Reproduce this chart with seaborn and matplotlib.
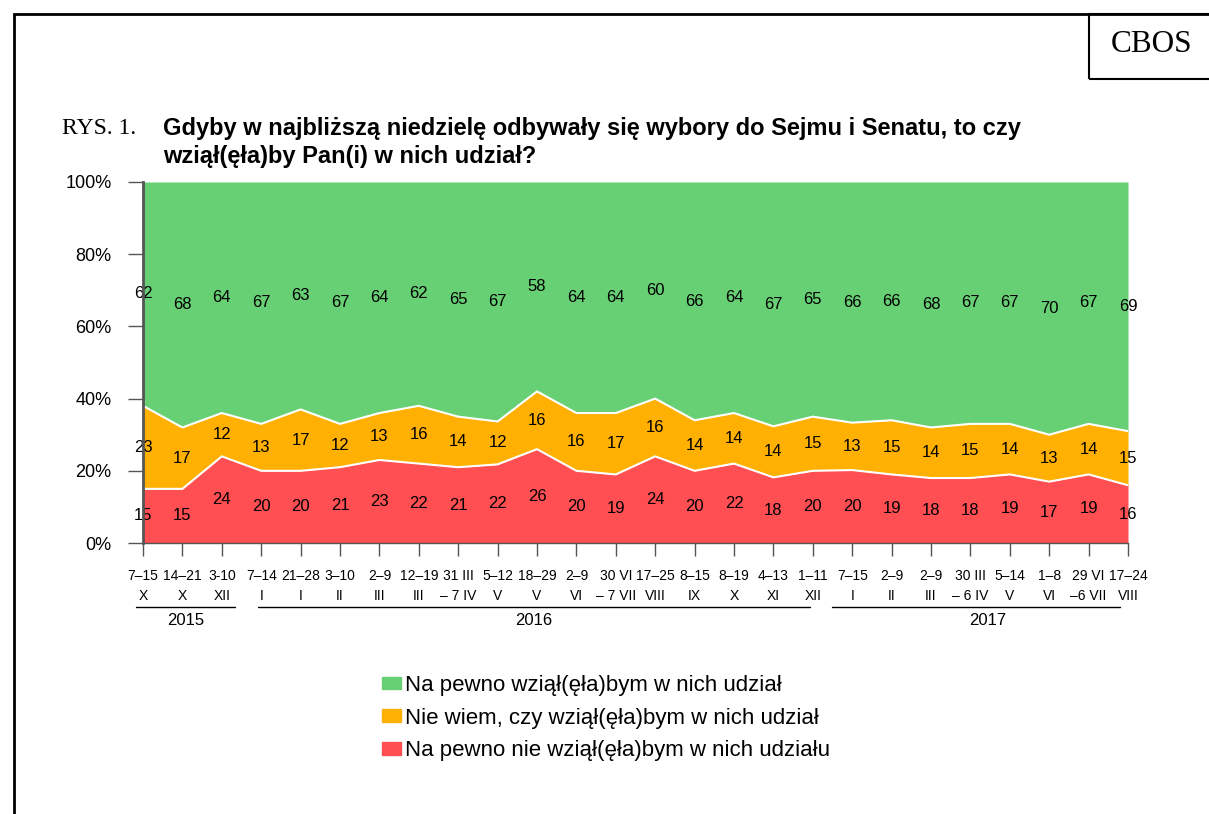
import numpy as np
import pandas as pd
import matplotlib
matplotlib.use("Agg")
import matplotlib.pyplot as plt
import matplotlib.patches as mpatches
import matplotlib.transforms as mtransforms
import seaborn as sns

# survey dates (two-line tick labels)
dates = ["7–15\nX", "14–21\nX", "3-10\nXII",
         "7–14\nI", "21–28\nI", "3–10\nII", "2–9\nIII", "12–19\nIII", "31 III\n– 7 IV",
         "5–12\nV", "18–29\nV", "2–9\nVI", "30 VI\n– 7 VII", "17–25\nVIII", "8–15\nIX",
         "8–19\nX", "4–13\nXI", "1–11\nXII",
         "7–15\nI", "2–9\nII", "2–9\nIII", "30 III\n– 6 IV", "5–14\nV", "1–8\nVI",
         "29 VI\n–6 VII", "17–24\nVIII"]

na_pewno_tak = [62, 68, 64, 67, 63, 67, 64, 62, 65, 67, 58, 64, 64, 60, 66, 64, 67,
                65, 66, 66, 68, 67, 67, 70, 67, 69]
nie_wiem = [23, 17, 12, 13, 17, 12, 13, 16, 14, 12, 16, 16, 17, 16, 14, 14, 14,
            15, 13, 15, 14, 15, 14, 13, 14, 15]
na_pewno_nie = [15, 15, 24, 20, 20, 21, 23, 22, 21, 22, 26, 20, 19, 24, 20, 22, 18,
                20, 20, 19, 18, 18, 19, 17, 19, 16]

years = ["2015", "2016", "2017"]
year_spans = [(-0.18, 2.33), (2.92, 16.93), (17.49, 24.8)]

labels = ["Na pewno wziął(ęła)bym w nich udział",
          "Nie wiem, czy wziął(ęła)bym w nich udział",
          "Na pewno nie wziął(ęła)bym w nich udziału"]
colors = ["#67CF74", "#FFB000", "#FF4F52"]

sns.set_theme(style="white")
plt.rcParams["font.family"] = ["Liberation Sans", "DejaVu Sans"]
plt.rcParams["text.color"] = "black"
plt.rcParams["xtick.labelcolor"] = "black"
plt.rcParams["ytick.labelcolor"] = "black"

df = pd.DataFrame({"x": np.arange(len(dates)),
                   "tak": na_pewno_tak, "niewiem": nie_wiem, "nie": na_pewno_nie})
total = df[["tak", "niewiem", "nie"]].sum(axis=1)
df["b1"] = df["nie"] / total * 100
df["b2"] = (df["nie"] + df["niewiem"]) / total * 100
df["b3"] = 100.0

fig = plt.figure(figsize=(12.09, 8.14), dpi=100)
W, H = 1209, 814
ax = fig.add_axes([143 / W, 1 - 543 / H, (1128 - 143) / W, (543 - 182) / H])

ax.fill_between(df["x"], 0, df["b1"], color=colors[2], lw=0)
ax.fill_between(df["x"], df["b1"], df["b2"], color=colors[1], lw=0)
ax.fill_between(df["x"], df["b2"], df["b3"], color=colors[0], lw=0)
sns.lineplot(data=df, x="x", y="b1", ax=ax, color="white", lw=1.5)
sns.lineplot(data=df, x="x", y="b2", ax=ax, color="white", lw=1.5)

# value labels at band centres
for x, b1, b2, tak, nw, nie in zip(df["x"], df["b1"], df["b2"],
                                   na_pewno_tak, nie_wiem, na_pewno_nie):
    ax.text(x, b1 / 2, str(nie), ha="center", va="center", fontsize=12)
    ax.text(x, (b1 + b2) / 2, str(nw), ha="center", va="center", fontsize=12)
    ax.text(x, (b2 + 100) / 2, str(tak), ha="center", va="center", fontsize=12)

ax.set_xlim(0, len(dates) - 1)
ax.set_ylim(0, 100)
ax.set_xlabel("")
ax.set_ylabel("")
ax.set_xticks(df["x"])
ax.set_xticklabels(dates, fontsize=10, linespacing=1.55)
ax.set_yticks([0, 20, 40, 60, 80, 100])
ax.set_yticklabels([f"{v}%" for v in [0, 20, 40, 60, 80, 100]], fontsize=13)
ax.tick_params(axis="x", length=9, width=1, color="#555555", pad=10, bottom=True)
ax.tick_params(axis="y", length=11, width=1, color="#555555", pad=11.5, left=True)
for s in ["top", "right"]:
    ax.spines[s].set_visible(False)
ax.spines["left"].set_color("#555555")
ax.spines["left"].set_linewidth(2)
ax.spines["left"].set_zorder(5)
ax.spines["bottom"].set_color("#555555")
ax.spines["bottom"].set_linewidth(1)

# year brackets under the axis
trans = mtransforms.blended_transform_factory(ax.transData, ax.transAxes)
for yr, (x0, x1) in zip(years, year_spans):
    ax.plot([x0, x1], [-0.177, -0.177], color="black", lw=1, transform=trans, clip_on=False)
    xm = (x0 + x1) / 2 + (0.3 if yr == "2017" else 0)
    ax.text(xm, -0.215, yr, transform=trans, ha="center", va="center", fontsize=12)

# page frame and CBOS box
fig.add_artist(mpatches.Rectangle((14 / W, -0.1), 1.2, 1 - 14 / H + 0.1, transform=fig.transFigure,
                                  fill=False, ec="black", lw=2))
fig.add_artist(mpatches.Rectangle((1089 / W, 1 - 79 / H), 0.2, 65 / H, transform=fig.transFigure,
                                  fill=False, ec="black", lw=1.5))
fig.text(1152 / W, 1 - 44 / H, "CBOS", ha="center", va="center", fontsize=22.5,
         family="Liberation Serif")

fig.text(62 / W, 1 - 128 / H, "RYS. 1.", ha="left", va="center", fontsize=17,
         family="Liberation Serif")
fig.text(163 / W, 1 - 129 / H, "Gdyby w najbliższą niedzielę odbywały się wybory do Sejmu i Senatu, to czy",
         ha="left", va="center", fontsize=17, fontweight="bold")
fig.text(163 / W, 1 - 156 / H, "wziął(ęła)by Pan(i) w nich udział?",
         ha="left", va="center", fontsize=17, fontweight="bold")

handles = [mpatches.Patch(color=c, label=l) for c, l in zip(colors, labels)]
fig.legend(handles=handles, loc="upper left", bbox_to_anchor=(382 / W, 1 - 675 / H),
           frameon=False, fontsize=16, handlelength=0.86, handleheight=0.5,
           handletextpad=0.18, labelspacing=0.52, borderaxespad=0, borderpad=0)

fig.savefig("out.png", dpi=100)
